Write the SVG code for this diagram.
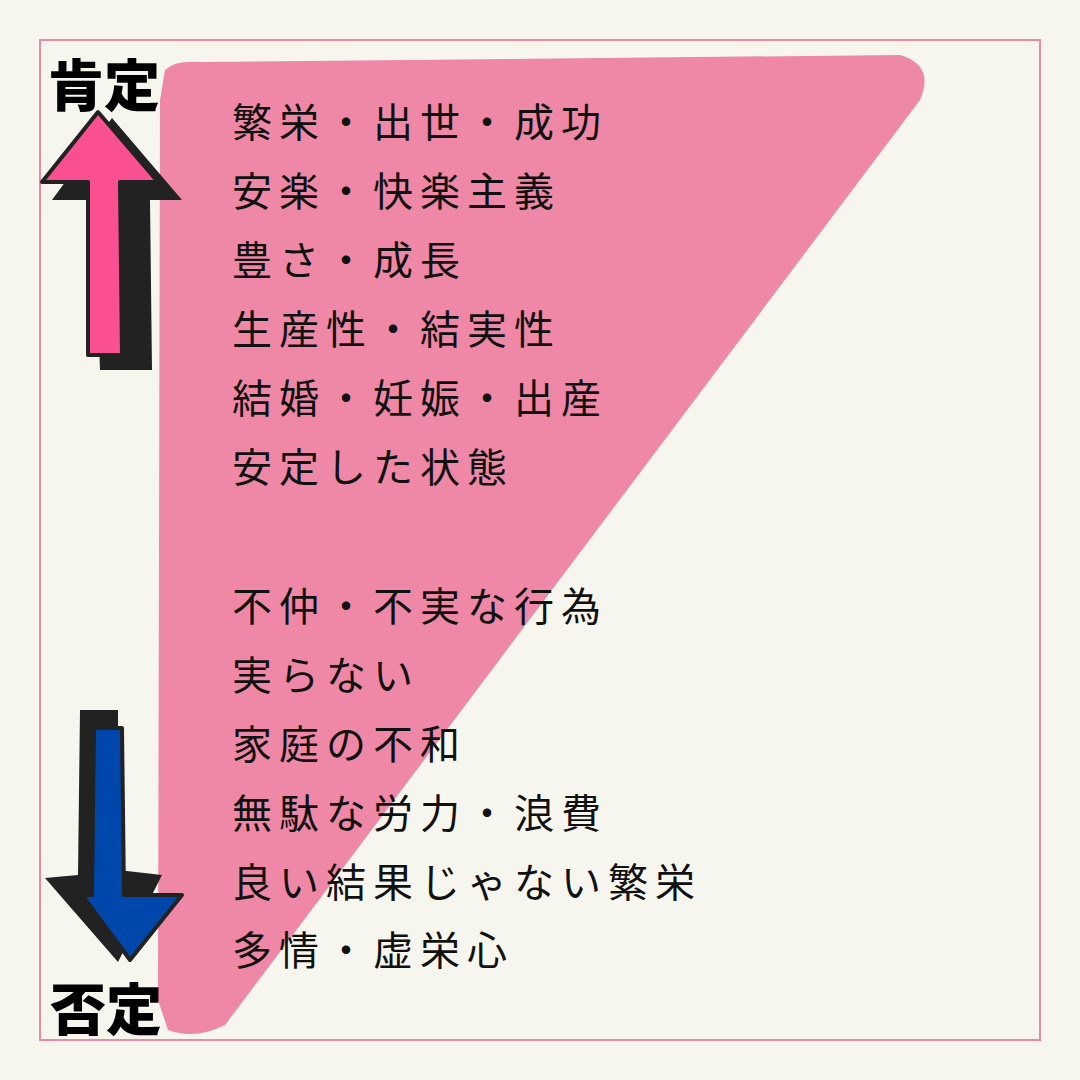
<svg xmlns="http://www.w3.org/2000/svg" width="1080" height="1080" viewBox="0 0 1080 1080">
<style>
.t{font-family:"Noto Sans CJK JP",sans-serif;font-size:40px;fill:#111;letter-spacing:7px}
.h{font-family:"Noto Sans CJK JP",sans-serif;font-size:56px;font-weight:900;fill:#000}
</style>
<rect width="1080" height="1080" fill="#f7f6ee"/>
<rect x="40" y="40" width="1000" height="1000" fill="none" stroke="#ef88a6" stroke-width="2"/>
<g id="triangle"><path d="M165,70 Q175,60 200,62 L900,55 Q935,65 920,100 L225,1025 Q195,1040 168,1030 L158,1000 L160,100 Z" fill="#ef88a6"/></g>
<g id="arrow-up">
<path d="M112,118 L182,200 L150,200 L152,370 L100,370 L94,200 L52,200 Z" fill="#222"/>
<path d="M98,112 L158,182 L120,182 L122,355 L88,355 L88,182 L42,182 Z" fill="#fa4f91" stroke="#222" stroke-width="4" stroke-linejoin="round"/>
</g>
<g id="arrow-down">
<path d="M80,710 L118,710 L118,870 L162,875 L118,962 L45,878 L78,875 Z" fill="#222"/>
<path d="M94,728 L122,728 L124,895 L182,895 L130,960 L82,895 L92,895 Z" fill="#0047ab" stroke="#222" stroke-width="4" stroke-linejoin="round"/>
</g>
<g id="labels">
<text class="h" x="48" y="106">肯定</text>
<text class="h" x="50" y="1030">否定</text>
</g>
<g id="text">
<text class="t" x="232" y="137">繁栄・出世・成功</text>
<text class="t" x="232" y="206">安楽・快楽主義</text>
<text class="t" x="232" y="275">豊さ・成長</text>
<text class="t" x="232" y="344">生産性・結実性</text>
<text class="t" x="232" y="413">結婚・妊娠・出産</text>
<text class="t" x="232" y="482">安定した状態</text>
<text class="t" x="232" y="621">不仲・不実な行為</text>
<text class="t" x="232" y="690">実らない</text>
<text class="t" x="232" y="759">家庭の不和</text>
<text class="t" x="232" y="828">無駄な労力・浪費</text>
<text class="t" x="232" y="897">良い結果じゃない繁栄</text>
<text class="t" x="232" y="965">多情・虚栄心</text>
</g>
</svg>
